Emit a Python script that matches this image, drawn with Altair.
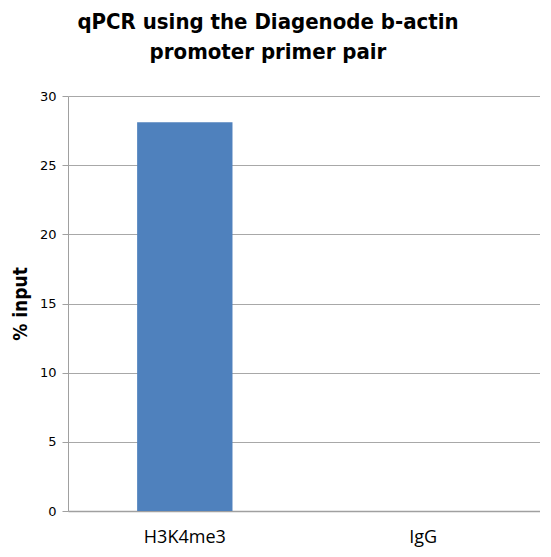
import altair as alt
import pandas as pd

categories = ["H3K4me3", "IgG"]
values = [28.1, 0.0]

df = pd.DataFrame({"sample": categories, "pct": values})

chart = alt.Chart(df).mark_bar(color="#4F81BD").encode(
    x=alt.X("sample:N", sort=categories, title=None,
            scale=alt.Scale(paddingInner=0.6, paddingOuter=0.29),
            axis=alt.Axis(labelAngle=0, ticks=False, labelFont="Open Sans",
                          labelFontSize=18, labelColor="#000000", labelPadding=17,
                          domainColor="#a0a0a0", domainWidth=1.5, grid=False)),
    y=alt.Y("pct:Q", title="% input",
            scale=alt.Scale(domain=[0, 30]),
            axis=alt.Axis(values=[0, 5, 10, 15, 20, 25, 30], tickSize=6,
                          tickColor="#a0a0a0", domainColor="#a0a0a0",
                          gridColor="#a8a8a8", labelFont="DejaVu Sans",
                          labelFontSize=13, labelColor="#000000", labelPadding=6,
                          titleFont="DejaVu Sans Condensed", titleFontSize=19,
                          titleFontWeight="bold", titleColor="#000000",
                          titlePadding=9)),
).properties(
    width=472, height=415,
    title=alt.TitleParams(
        text=["qPCR using the Diagenode b-actin", "promoter primer pair"],
        font="DejaVu Sans Condensed", fontSize=22, fontWeight="bold",
        color="#000000", lineHeight=30, anchor="middle", dx=-36, offset=26,
    ),
    autosize=alt.AutoSizeParams(type="none"),
    padding={"left": 60, "top": 88, "right": 0, "bottom": 40},
).configure_view(stroke=None)

chart.save("out.html", embed_options={"renderer": "svg", "actions": False})
